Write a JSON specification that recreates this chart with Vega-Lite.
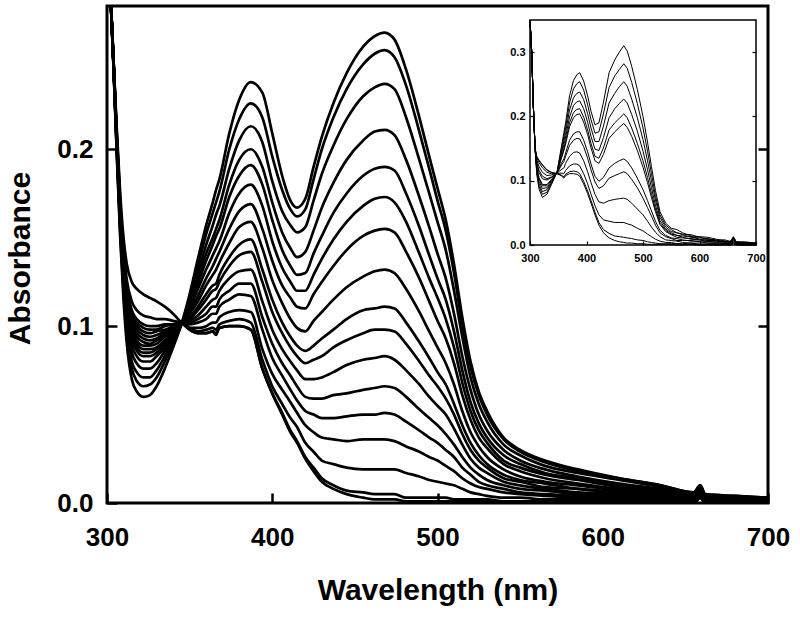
{
 "$schema": "https://vega.github.io/schema/vega-lite/v6.json",
 "width": 661,
 "height": 497,
 "autosize": "none",
 "padding": {"left": 107, "top": 6, "right": 32, "bottom": 116},
 "background": "white",
 "config": {"view": {"stroke": "black", "strokeWidth": 3}, "font": "Liberation Sans"},
 "datasets": {
  "main": [
   {"w":300,"c1":0.33,"c2":0.33,"c3":0.33,"c4":0.33,"c5":0.33,"c6":0.33,"c7":0.33,"c8":0.33,"c9":0.33,"c10":0.33,"c11":0.33,"c12":0.33,"c13":0.33,"c14":0.33,"c15":0.33,"c16":0.33,"c17":0.33},
   {"w":302,"c1":0.29,"c2":0.29,"c3":0.29,"c4":0.29,"c5":0.29,"c6":0.29,"c7":0.29,"c8":0.29,"c9":0.29,"c10":0.29,"c11":0.29,"c12":0.29,"c13":0.29,"c14":0.29,"c15":0.29,"c16":0.29,"c17":0.29},
   {"w":304,"c1":0.245,"c2":0.246,"c3":0.246,"c4":0.246,"c5":0.247,"c6":0.247,"c7":0.247,"c8":0.247,"c9":0.248,"c10":0.248,"c11":0.248,"c12":0.248,"c13":0.248,"c14":0.248,"c15":0.249,"c16":0.249,"c17":0.25},
   {"w":306,"c1":0.195,"c2":0.197,"c3":0.198,"c4":0.199,"c5":0.2,"c6":0.201,"c7":0.201,"c8":0.202,"c9":0.203,"c10":0.203,"c11":0.204,"c12":0.204,"c13":0.205,"c14":0.205,"c15":0.206,"c16":0.207,"c17":0.21},
   {"w":308,"c1":0.15,"c2":0.153,"c3":0.155,"c4":0.157,"c5":0.159,"c6":0.16,"c7":0.161,"c8":0.162,"c9":0.163,"c10":0.163,"c11":0.164,"c12":0.165,"c13":0.166,"c14":0.167,"c15":0.168,"c16":0.17,"c17":0.175},
   {"w":310,"c1":0.115,"c2":0.119,"c3":0.122,"c4":0.125,"c5":0.127,"c6":0.129,"c7":0.13,"c8":0.131,"c9":0.133,"c10":0.134,"c11":0.135,"c12":0.136,"c13":0.137,"c14":0.139,"c15":0.14,"c16":0.143,"c17":0.15},
   {"w":312,"c1":0.09,"c2":0.095,"c3":0.099,"c4":0.102,"c5":0.106,"c6":0.108,"c7":0.109,"c8":0.111,"c9":0.113,"c10":0.114,"c11":0.116,"c12":0.117,"c13":0.119,"c14":0.12,"c15":0.122,"c16":0.126,"c17":0.135},
   {"w":315,"c1":0.07,"c2":0.076,"c3":0.08,"c4":0.085,"c5":0.089,"c6":0.092,"c7":0.094,"c8":0.096,"c9":0.098,"c10":0.099,"c11":0.101,"c12":0.103,"c13":0.105,"c14":0.107,"c15":0.109,"c16":0.114,"c17":0.125},
   {"w":318,"c1":0.063,"c2":0.069,"c3":0.074,"c4":0.079,"c5":0.083,"c6":0.086,"c7":0.088,"c8":0.09,"c9":0.092,"c10":0.094,"c11":0.096,"c12":0.098,"c13":0.1,"c14":0.102,"c15":0.104,"c16":0.109,"c17":0.121},
   {"w":322,"c1":0.06,"c2":0.066,"c3":0.071,"c4":0.076,"c5":0.08,"c6":0.083,"c7":0.085,"c8":0.087,"c9":0.089,"c10":0.091,"c11":0.093,"c12":0.095,"c13":0.097,"c14":0.099,"c15":0.101,"c16":0.106,"c17":0.118},
   {"w":326,"c1":0.061,"c2":0.067,"c3":0.071,"c4":0.076,"c5":0.08,"c6":0.083,"c7":0.085,"c8":0.087,"c9":0.089,"c10":0.09,"c11":0.092,"c12":0.094,"c13":0.096,"c14":0.098,"c15":0.1,"c16":0.105,"c17":0.116},
   {"w":330,"c1":0.066,"c2":0.071,"c3":0.075,"c4":0.079,"c5":0.083,"c6":0.085,"c7":0.087,"c8":0.088,"c9":0.09,"c10":0.092,"c11":0.093,"c12":0.095,"c13":0.097,"c14":0.098,"c15":0.1,"c16":0.104,"c17":0.114},
   {"w":335,"c1":0.076,"c2":0.08,"c3":0.083,"c4":0.086,"c5":0.088,"c6":0.09,"c7":0.091,"c8":0.092,"c9":0.094,"c10":0.095,"c11":0.096,"c12":0.097,"c13":0.098,"c14":0.1,"c15":0.101,"c16":0.104,"c17":0.111},
   {"w":340,"c1":0.088,"c2":0.09,"c3":0.092,"c4":0.093,"c5":0.095,"c6":0.096,"c7":0.096,"c8":0.097,"c9":0.098,"c10":0.098,"c11":0.099,"c12":0.099,"c13":0.1,"c14":0.101,"c15":0.101,"c16":0.103,"c17":0.107},
   {"w":345,"c1":0.101,"c2":0.101,"c3":0.101,"c4":0.101,"c5":0.101,"c6":0.101,"c7":0.101,"c8":0.101,"c9":0.101,"c10":0.102,"c11":0.102,"c12":0.102,"c13":0.102,"c14":0.102,"c15":0.102,"c16":0.102,"c17":0.102},
   {"w":350,"c1":0.118,"c2":0.116,"c3":0.114,"c4":0.113,"c5":0.111,"c6":0.11,"c7":0.108,"c8":0.107,"c9":0.105,"c10":0.104,"c11":0.103,"c12":0.102,"c13":0.101,"c14":0.099,"c15":0.099,"c16":0.098,"c17":0.098},
   {"w":355,"c1":0.138,"c2":0.134,"c3":0.13,"c4":0.127,"c5":0.124,"c6":0.121,"c7":0.117,"c8":0.114,"c9":0.111,"c10":0.109,"c11":0.106,"c12":0.104,"c13":0.102,"c14":0.099,"c15":0.097,"c16":0.096,"c17":0.096},
   {"w":360,"c1":0.157,"c2":0.152,"c3":0.146,"c4":0.141,"c5":0.137,"c6":0.132,"c7":0.127,"c8":0.123,"c9":0.118,"c10":0.115,"c11":0.111,"c12":0.107,"c13":0.104,"c14":0.1,"c15":0.098,"c16":0.096,"c17":0.096},
   {"w":364,"c1":0.17,"c2":0.164,"c3":0.157,"c4":0.15,"c5":0.146,"c6":0.14,"c7":0.134,"c8":0.129,"c9":0.123,"c10":0.12,"c11":0.115,"c12":0.111,"c13":0.107,"c14":0.102,"c15":0.099,"c16":0.097,"c17":0.097},
   {"w":366,"c1":0.177,"c2":0.17,"c3":0.163,"c4":0.155,"c5":0.151,"c6":0.144,"c7":0.138,"c8":0.132,"c9":0.124,"c10":0.121,"c11":0.116,"c12":0.111,"c13":0.107,"c14":0.102,"c15":0.098,"c16":0.096,"c17":0.095},
   {"w":368,"c1":0.183,"c2":0.176,"c3":0.168,"c4":0.16,"c5":0.155,"c6":0.148,"c7":0.142,"c8":0.136,"c9":0.129,"c10":0.125,"c11":0.12,"c12":0.115,"c13":0.111,"c14":0.105,"c15":0.101,"c16":0.099,"c17":0.099},
   {"w":374,"c1":0.209,"c2":0.2,"c3":0.189,"c4":0.18,"c5":0.173,"c6":0.164,"c7":0.155,"c8":0.147,"c9":0.139,"c10":0.134,"c11":0.127,"c12":0.12,"c13":0.115,"c14":0.108,"c15":0.103,"c16":0.1,"c17":0.1},
   {"w":380,"c1":0.228,"c2":0.217,"c3":0.205,"c4":0.194,"c5":0.185,"c6":0.175,"c7":0.165,"c8":0.156,"c9":0.146,"c10":0.14,"c11":0.131,"c12":0.124,"c13":0.118,"c14":0.109,"c15":0.104,"c16":0.1,"c17":0.1},
   {"w":387,"c1":0.238,"c2":0.226,"c3":0.213,"c4":0.2,"c5":0.191,"c6":0.18,"c7":0.169,"c8":0.159,"c9":0.149,"c10":0.142,"c11":0.132,"c12":0.124,"c13":0.117,"c14":0.108,"c15":0.102,"c16":0.098,"c17":0.098},
   {"w":394,"c1":0.232,"c2":0.218,"c3":0.204,"c4":0.19,"c5":0.18,"c6":0.168,"c7":0.155,"c8":0.144,"c9":0.132,"c10":0.125,"c11":0.114,"c12":0.105,"c13":0.098,"c14":0.087,"c15":0.081,"c16":0.076,"c17":0.076},
   {"w":400,"c1":0.209,"c2":0.196,"c3":0.182,"c4":0.17,"c5":0.16,"c6":0.148,"c7":0.137,"c8":0.126,"c9":0.115,"c10":0.108,"c11":0.098,"c12":0.09,"c13":0.082,"c14":0.073,"c15":0.066,"c16":0.062,"c17":0.062},
   {"w":406,"c1":0.185,"c2":0.177,"c3":0.165,"c4":0.153,"c5":0.143,"c6":0.133,"c7":0.123,"c8":0.113,"c9":0.102,"c10":0.096,"c11":0.087,"c12":0.079,"c13":0.072,"c14":0.064,"c15":0.056,"c16":0.051,"c17":0.05},
   {"w":411,"c1":0.171,"c2":0.166,"c3":0.157,"c4":0.144,"c5":0.134,"c6":0.125,"c7":0.116,"c8":0.104,"c9":0.094,"c10":0.088,"c11":0.08,"c12":0.072,"c13":0.064,"c14":0.057,"c15":0.048,"c16":0.041,"c17":0.04},
   {"w":415,"c1":0.167,"c2":0.162,"c3":0.153,"c4":0.139,"c5":0.129,"c6":0.12,"c7":0.111,"c8":0.099,"c9":0.089,"c10":0.083,"c11":0.075,"c12":0.066,"c13":0.058,"c14":0.051,"c15":0.043,"c16":0.035,"c17":0.034},
   {"w":420,"c1":0.172,"c2":0.166,"c3":0.156,"c4":0.142,"c5":0.13,"c6":0.12,"c7":0.11,"c8":0.097,"c9":0.086,"c10":0.079,"c11":0.07,"c12":0.06,"c13":0.052,"c14":0.044,"c15":0.034,"c16":0.026,"c17":0.025},
   {"w":425,"c1":0.19,"c2":0.183,"c3":0.171,"c4":0.154,"c5":0.141,"c6":0.129,"c7":0.118,"c8":0.103,"c9":0.089,"c10":0.081,"c11":0.07,"c12":0.059,"c13":0.05,"c14":0.04,"c15":0.029,"c16":0.02,"c17":0.018},
   {"w":430,"c1":0.207,"c2":0.2,"c3":0.186,"c4":0.167,"c5":0.151,"c6":0.138,"c7":0.125,"c8":0.108,"c9":0.093,"c10":0.083,"c11":0.071,"c12":0.059,"c13":0.048,"c14":0.037,"c15":0.024,"c16":0.014,"c17":0.012},
   {"w":437,"c1":0.226,"c2":0.218,"c3":0.202,"c4":0.181,"c5":0.164,"c6":0.149,"c7":0.134,"c8":0.115,"c9":0.098,"c10":0.088,"c11":0.074,"c12":0.061,"c13":0.048,"c14":0.036,"c15":0.022,"c16":0.01,"c17":0.008},
   {"w":445,"c1":0.243,"c2":0.234,"c3":0.217,"c4":0.194,"c5":0.175,"c6":0.159,"c7":0.143,"c8":0.122,"c9":0.104,"c10":0.092,"c11":0.078,"c12":0.062,"c13":0.049,"c14":0.035,"c15":0.02,"c16":0.007,"c17":0.005},
   {"w":455,"c1":0.258,"c2":0.248,"c3":0.23,"c4":0.205,"c5":0.185,"c6":0.168,"c7":0.151,"c8":0.128,"c9":0.109,"c10":0.096,"c11":0.081,"c12":0.064,"c13":0.05,"c14":0.036,"c15":0.019,"c16":0.006,"c17":0.003},
   {"w":462,"c1":0.264,"c2":0.254,"c3":0.235,"c4":0.21,"c5":0.189,"c6":0.172,"c7":0.154,"c8":0.131,"c9":0.11,"c10":0.098,"c11":0.082,"c12":0.065,"c13":0.05,"c14":0.036,"c15":0.019,"c16":0.005,"c17":0.002},
   {"w":468,"c1":0.266,"c2":0.256,"c3":0.237,"c4":0.211,"c5":0.19,"c6":0.173,"c7":0.155,"c8":0.132,"c9":0.111,"c10":0.098,"c11":0.083,"c12":0.066,"c13":0.051,"c14":0.036,"c15":0.019,"c16":0.005,"c17":0.002},
   {"w":474,"c1":0.262,"c2":0.252,"c3":0.234,"c4":0.208,"c5":0.188,"c6":0.17,"c7":0.153,"c8":0.13,"c9":0.11,"c10":0.097,"c11":0.081,"c12":0.065,"c13":0.05,"c14":0.035,"c15":0.019,"c16":0.005,"c17":0.002},
   {"w":481,"c1":0.245,"c2":0.236,"c3":0.218,"c4":0.194,"c5":0.175,"c6":0.159,"c7":0.142,"c8":0.121,"c9":0.102,"c10":0.09,"c11":0.075,"c12":0.06,"c13":0.046,"c14":0.032,"c15":0.017,"c16":0.003,"c17":0.001},
   {"w":489,"c1":0.218,"c2":0.21,"c3":0.194,"c4":0.173,"c5":0.156,"c6":0.141,"c7":0.127,"c8":0.108,"c9":0.091,"c10":0.08,"c11":0.067,"c12":0.053,"c13":0.041,"c14":0.029,"c15":0.015,"c16":0.003,"c17":0.001},
   {"w":495,"c1":0.196,"c2":0.189,"c3":0.175,"c4":0.156,"c5":0.14,"c6":0.127,"c7":0.114,"c8":0.097,"c9":0.082,"c10":0.072,"c11":0.06,"c12":0.048,"c13":0.037,"c14":0.026,"c15":0.013,"c16":0.003,"c17":0.001},
   {"w":500,"c1":0.178,"c2":0.171,"c3":0.159,"c4":0.141,"c5":0.127,"c6":0.116,"c7":0.103,"c8":0.088,"c9":0.074,"c10":0.066,"c11":0.055,"c12":0.044,"c13":0.034,"c14":0.024,"c15":0.012,"c16":0.003,"c17":0.001},
   {"w":505,"c1":0.16,"c2":0.154,"c3":0.143,"c4":0.127,"c5":0.115,"c6":0.104,"c7":0.093,"c8":0.079,"c9":0.067,"c10":0.059,"c11":0.05,"c12":0.039,"c13":0.03,"c14":0.021,"c15":0.011,"c16":0.003,"c17":0.001},
   {"w":510,"c1":0.135,"c2":0.13,"c3":0.12,"c4":0.107,"c5":0.097,"c6":0.088,"c7":0.079,"c8":0.067,"c9":0.056,"c10":0.05,"c11":0.042,"c12":0.033,"c13":0.026,"c14":0.018,"c15":0.01,"c16":0.002,"c17":0.001},
   {"w":515,"c1":0.105,"c2":0.101,"c3":0.094,"c4":0.083,"c5":0.075,"c6":0.068,"c7":0.061,"c8":0.052,"c9":0.044,"c10":0.039,"c11":0.033,"c12":0.026,"c13":0.02,"c14":0.014,"c15":0.008,"c16":0.002,"c17":0.001},
   {"w":520,"c1":0.08,"c2":0.077,"c3":0.071,"c4":0.064,"c5":0.057,"c6":0.052,"c7":0.047,"c8":0.04,"c9":0.034,"c10":0.03,"c11":0.025,"c12":0.02,"c13":0.016,"c14":0.011,"c15":0.006,"c16":0.002,"c17":0.001},
   {"w":525,"c1":0.063,"c2":0.061,"c3":0.056,"c4":0.05,"c5":0.045,"c6":0.041,"c7":0.037,"c8":0.032,"c9":0.027,"c10":0.024,"c11":0.02,"c12":0.016,"c13":0.012,"c14":0.009,"c15":0.005,"c16":0.002,"c17":0.001},
   {"w":530,"c1":0.052,"c2":0.05,"c3":0.046,"c4":0.041,"c5":0.037,"c6":0.034,"c7":0.031,"c8":0.026,"c9":0.022,"c10":0.02,"c11":0.017,"c12":0.013,"c13":0.01,"c14":0.008,"c15":0.004,"c16":0.002,"c17":0.001},
   {"w":540,"c1":0.037,"c2":0.036,"c3":0.033,"c4":0.03,"c5":0.027,"c6":0.024,"c7":0.022,"c8":0.019,"c9":0.016,"c10":0.014,"c11":0.012,"c12":0.01,"c13":0.008,"c14":0.006,"c15":0.003,"c16":0.001,"c17":0.001},
   {"w":550,"c1":0.03,"c2":0.029,"c3":0.027,"c4":0.024,"c5":0.022,"c6":0.02,"c7":0.018,"c8":0.015,"c9":0.013,"c10":0.012,"c11":0.01,"c12":0.008,"c13":0.006,"c14":0.005,"c15":0.003,"c16":0.001,"c17":0.001},
   {"w":565,"c1":0.024,"c2":0.023,"c3":0.021,"c4":0.019,"c5":0.017,"c6":0.016,"c7":0.014,"c8":0.012,"c9":0.011,"c10":0.009,"c11":0.008,"c12":0.007,"c13":0.005,"c14":0.004,"c15":0.002,"c16":0.001,"c17":0.001},
   {"w":585,"c1":0.019,"c2":0.018,"c3":0.017,"c4":0.015,"c5":0.014,"c6":0.013,"c7":0.011,"c8":0.01,"c9":0.008,"c10":0.008,"c11":0.006,"c12":0.005,"c13":0.004,"c14":0.003,"c15":0.002,"c16":0.001,"c17":0.001},
   {"w":610,"c1":0.014,"c2":0.014,"c3":0.013,"c4":0.011,"c5":0.01,"c6":0.009,"c7":0.008,"c8":0.007,"c9":0.006,"c10":0.006,"c11":0.005,"c12":0.004,"c13":0.003,"c14":0.002,"c15":0.001,"c16":0.001,"c17":0.001},
   {"w":635,"c1":0.01,"c2":0.01,"c3":0.009,"c4":0.008,"c5":0.007,"c6":0.006,"c7":0.006,"c8":0.005,"c9":0.004,"c10":0.004,"c11":0.003,"c12":0.002,"c13":0.002,"c14":0.001,"c15":0.001,"c16":0,"c17":0},
   {"w":655,"c1":0.006,"c2":0.006,"c3":0.005,"c4":0.005,"c5":0.004,"c6":0.004,"c7":0.003,"c8":0.003,"c9":0.002,"c10":0.002,"c11":0.002,"c12":0.001,"c13":0.001,"c14":0.001,"c15":0,"c16":0,"c17":0},
   {"w":659,"c1":0.01,"c2":0.01,"c3":0.009,"c4":0.009,"c5":0.008,"c6":0.008,"c7":0.007,"c8":0.007,"c9":0.006,"c10":0.006,"c11":0.005,"c12":0.005,"c13":0.004,"c14":0.004,"c15":0.003,"c16":0.003,"c17":0.003},
   {"w":662,"c1":0.005,"c2":0.005,"c3":0.004,"c4":0.004,"c5":0.004,"c6":0.003,"c7":0.003,"c8":0.003,"c9":0.002,"c10":0.002,"c11":0.002,"c12":0.001,"c13":0.001,"c14":0.001,"c15":0,"c16":0,"c17":0},
   {"w":680,"c1":0.004,"c2":0.004,"c3":0.003,"c4":0.003,"c5":0.003,"c6":0.002,"c7":0.002,"c8":0.002,"c9":0.002,"c10":0.001,"c11":0.001,"c12":0.001,"c13":0.001,"c14":0,"c15":0,"c16":0,"c17":0},
   {"w":700,"c1":0.003,"c2":0.003,"c3":0.002,"c4":0.002,"c5":0.002,"c6":0.002,"c7":0.001,"c8":0.001,"c9":0.001,"c10":0.001,"c11":0.001,"c12":0,"c13":0,"c14":0,"c15":0,"c16":0,"c17":0}
  ],
  "inset": [
   {"w":300,"i1":0.35,"i2":0.35,"i3":0.35,"i4":0.35,"i5":0.35,"i6":0.35,"i7":0.35,"i8":0.35,"i9":0.35,"i10":0.35,"i11":0.35,"i12":0.35},
   {"w":303,"i1":0.3,"i2":0.3,"i3":0.3,"i4":0.3,"i5":0.3,"i6":0.3,"i7":0.3,"i8":0.3,"i9":0.3,"i10":0.3,"i11":0.3,"i12":0.3},
   {"w":306,"i1":0.215,"i2":0.215,"i3":0.215,"i4":0.215,"i5":0.215,"i6":0.215,"i7":0.215,"i8":0.215,"i9":0.215,"i10":0.215,"i11":0.215,"i12":0.215},
   {"w":309,"i1":0.15,"i2":0.15,"i3":0.15,"i4":0.15,"i5":0.15,"i6":0.15,"i7":0.15,"i8":0.15,"i9":0.15,"i10":0.15,"i11":0.15,"i12":0.15},
   {"w":312,"i1":0.11,"i2":0.113,"i3":0.115,"i4":0.118,"i5":0.12,"i6":0.121,"i7":0.126,"i8":0.128,"i9":0.132,"i10":0.135,"i11":0.137,"i12":0.138},
   {"w":316,"i1":0.087,"i2":0.091,"i3":0.095,"i4":0.099,"i5":0.103,"i6":0.105,"i7":0.113,"i8":0.116,"i9":0.122,"i10":0.128,"i11":0.131,"i12":0.132},
   {"w":322,"i1":0.074,"i2":0.079,"i3":0.083,"i4":0.088,"i5":0.092,"i6":0.094,"i7":0.103,"i8":0.107,"i9":0.113,"i10":0.12,"i11":0.124,"i12":0.125},
   {"w":330,"i1":0.079,"i2":0.082,"i3":0.086,"i4":0.089,"i5":0.092,"i6":0.094,"i7":0.101,"i8":0.103,"i9":0.108,"i10":0.113,"i11":0.116,"i12":0.117},
   {"w":338,"i1":0.094,"i2":0.096,"i3":0.097,"i4":0.099,"i5":0.101,"i6":0.102,"i7":0.105,"i8":0.106,"i9":0.109,"i10":0.111,"i11":0.113,"i12":0.113},
   {"w":348,"i1":0.114,"i2":0.114,"i3":0.113,"i4":0.113,"i5":0.113,"i6":0.113,"i7":0.112,"i8":0.112,"i9":0.112,"i10":0.111,"i11":0.111,"i12":0.111},
   {"w":355,"i1":0.15,"i2":0.146,"i3":0.142,"i4":0.139,"i5":0.135,"i6":0.133,"i7":0.126,"i8":0.123,"i9":0.117,"i10":0.112,"i11":0.109,"i12":0.108},
   {"w":360,"i1":0.175,"i2":0.169,"i3":0.162,"i4":0.156,"i5":0.15,"i6":0.147,"i7":0.134,"i8":0.13,"i9":0.12,"i10":0.111,"i11":0.106,"i12":0.104},
   {"w":363,"i1":0.19,"i2":0.183,"i3":0.175,"i4":0.168,"i5":0.161,"i6":0.157,"i7":0.143,"i8":0.138,"i9":0.127,"i10":0.116,"i11":0.11,"i12":0.108},
   {"w":370,"i1":0.232,"i2":0.221,"i3":0.21,"i4":0.199,"i5":0.19,"i6":0.184,"i7":0.163,"i8":0.155,"i9":0.138,"i10":0.123,"i11":0.114,"i12":0.111},
   {"w":377,"i1":0.256,"i2":0.243,"i3":0.229,"i4":0.217,"i5":0.206,"i6":0.198,"i7":0.173,"i8":0.163,"i9":0.144,"i10":0.126,"i11":0.115,"i12":0.111},
   {"w":383,"i1":0.265,"i2":0.251,"i3":0.236,"i4":0.223,"i5":0.211,"i6":0.203,"i7":0.176,"i8":0.166,"i9":0.145,"i10":0.126,"i11":0.114,"i12":0.11},
   {"w":388,"i1":0.268,"i2":0.254,"i3":0.238,"i4":0.224,"i5":0.212,"i6":0.204,"i7":0.176,"i8":0.165,"i9":0.143,"i10":0.123,"i11":0.111,"i12":0.107},
   {"w":395,"i1":0.255,"i2":0.241,"i3":0.226,"i4":0.212,"i5":0.199,"i6":0.191,"i7":0.163,"i8":0.153,"i9":0.131,"i10":0.111,"i11":0.099,"i12":0.095},
   {"w":402,"i1":0.232,"i2":0.218,"i3":0.204,"i4":0.191,"i5":0.179,"i6":0.172,"i7":0.145,"i8":0.135,"i9":0.114,"i10":0.095,"i11":0.084,"i12":0.08},
   {"w":408,"i1":0.208,"i2":0.195,"i3":0.182,"i4":0.169,"i5":0.158,"i6":0.151,"i7":0.126,"i8":0.117,"i9":0.097,"i10":0.079,"i11":0.069,"i12":0.065},
   {"w":415,"i1":0.187,"i2":0.174,"i3":0.161,"i4":0.149,"i5":0.138,"i6":0.131,"i7":0.107,"i8":0.098,"i9":0.079,"i10":0.061,"i11":0.051,"i12":0.047},
   {"w":422,"i1":0.19,"i2":0.176,"i3":0.161,"i4":0.147,"i5":0.135,"i6":0.127,"i7":0.099,"i8":0.088,"i9":0.067,"i10":0.047,"i11":0.035,"i12":0.031},
   {"w":430,"i1":0.222,"i2":0.204,"i3":0.185,"i4":0.167,"i5":0.151,"i6":0.141,"i7":0.105,"i8":0.092,"i9":0.065,"i10":0.039,"i11":0.024,"i12":0.019},
   {"w":440,"i1":0.268,"i2":0.245,"i3":0.221,"i4":0.198,"i5":0.179,"i6":0.166,"i7":0.12,"i8":0.104,"i9":0.069,"i10":0.037,"i11":0.018,"i12":0.011},
   {"w":450,"i1":0.288,"i2":0.263,"i3":0.236,"i4":0.212,"i5":0.19,"i6":0.176,"i7":0.127,"i8":0.108,"i9":0.071,"i10":0.035,"i11":0.014,"i12":0.007},
   {"w":458,"i1":0.3,"i2":0.273,"i3":0.246,"i4":0.22,"i5":0.197,"i6":0.183,"i7":0.131,"i8":0.111,"i9":0.072,"i10":0.035,"i11":0.013,"i12":0.005},
   {"w":466,"i1":0.31,"i2":0.282,"i3":0.254,"i4":0.227,"i5":0.204,"i6":0.189,"i7":0.134,"i8":0.114,"i9":0.073,"i10":0.035,"i11":0.012,"i12":0.004},
   {"w":472,"i1":0.302,"i2":0.275,"i3":0.247,"i4":0.221,"i5":0.198,"i6":0.183,"i7":0.13,"i8":0.111,"i9":0.071,"i10":0.033,"i11":0.011,"i12":0.003},
   {"w":480,"i1":0.278,"i2":0.253,"i3":0.227,"i4":0.203,"i5":0.182,"i6":0.169,"i7":0.12,"i8":0.102,"i9":0.065,"i10":0.031,"i11":0.01,"i12":0.003},
   {"w":490,"i1":0.242,"i2":0.22,"i3":0.198,"i4":0.177,"i5":0.158,"i6":0.147,"i7":0.104,"i8":0.089,"i9":0.056,"i10":0.026,"i11":0.008,"i12":0.002},
   {"w":500,"i1":0.2,"i2":0.182,"i3":0.164,"i4":0.146,"i5":0.131,"i6":0.121,"i7":0.086,"i8":0.073,"i9":0.047,"i10":0.022,"i11":0.007,"i12":0.002},
   {"w":508,"i1":0.16,"i2":0.146,"i3":0.131,"i4":0.117,"i5":0.105,"i6":0.097,"i7":0.069,"i8":0.058,"i9":0.037,"i10":0.017,"i11":0.005,"i12":0.001},
   {"w":515,"i1":0.122,"i2":0.111,"i3":0.1,"i4":0.089,"i5":0.08,"i6":0.074,"i7":0.053,"i8":0.045,"i9":0.028,"i10":0.013,"i11":0.004,"i12":0.001},
   {"w":522,"i1":0.085,"i2":0.077,"i3":0.07,"i4":0.062,"i5":0.056,"i6":0.052,"i7":0.037,"i8":0.031,"i9":0.02,"i10":0.009,"i11":0.003,"i12":0.001},
   {"w":530,"i1":0.052,"i2":0.047,"i3":0.043,"i4":0.038,"i5":0.034,"i6":0.032,"i7":0.023,"i8":0.019,"i9":0.013,"i10":0.006,"i11":0.002,"i12":0.001},
   {"w":540,"i1":0.034,"i2":0.031,"i3":0.028,"i4":0.025,"i5":0.023,"i6":0.021,"i7":0.015,"i8":0.013,"i9":0.008,"i10":0.004,"i11":0.002,"i12":0.001},
   {"w":550,"i1":0.026,"i2":0.024,"i3":0.021,"i4":0.019,"i5":0.017,"i6":0.016,"i7":0.011,"i8":0.01,"i9":0.007,"i10":0.004,"i11":0.002,"i12":0.001},
   {"w":560,"i1":0.024,"i2":0.019,"i3":0.019,"i4":0.015,"i5":0.015,"i6":0.012,"i7":0.01,"i8":0.007,"i9":0.006,"i10":0.002,"i11":0.002,"i12":0},
   {"w":570,"i1":0.019,"i2":0.017,"i3":0.016,"i4":0.014,"i5":0.012,"i6":0.011,"i7":0.008,"i8":0.007,"i9":0.004,"i10":0.002,"i11":0.001,"i12":0},
   {"w":585,"i1":0.014,"i2":0.016,"i3":0.012,"i4":0.013,"i5":0.009,"i6":0.01,"i7":0.006,"i8":0.007,"i9":0.003,"i10":0.003,"i11":0.001,"i12":0.001},
   {"w":600,"i1":0.013,"i2":0.012,"i3":0.011,"i4":0.009,"i5":0.008,"i6":0.008,"i7":0.006,"i8":0.005,"i9":0.003,"i10":0.001,"i11":0,"i12":0},
   {"w":615,"i1":0.012,"i2":0.009,"i3":0.01,"i4":0.007,"i5":0.008,"i6":0.005,"i7":0.006,"i8":0.003,"i9":0.003,"i10":0.001,"i11":0.001,"i12":0},
   {"w":630,"i1":0.009,"i2":0.008,"i3":0.007,"i4":0.007,"i5":0.006,"i6":0.005,"i7":0.004,"i8":0.003,"i9":0.002,"i10":0.001,"i11":0,"i12":0},
   {"w":645,"i1":0.006,"i2":0.008,"i3":0.005,"i4":0.006,"i5":0.004,"i6":0.005,"i7":0.002,"i8":0.003,"i9":0.001,"i10":0.001,"i11":0,"i12":0.001},
   {"w":655,"i1":0.006,"i2":0.005,"i3":0.005,"i4":0.004,"i5":0.004,"i6":0.004,"i7":0.003,"i8":0.002,"i9":0.001,"i10":0.001,"i11":0,"i12":0},
   {"w":660,"i1":0.013,"i2":0.012,"i3":0.012,"i4":0.011,"i5":0.01,"i6":0.01,"i7":0.008,"i8":0.007,"i9":0.005,"i10":0.004,"i11":0.003,"i12":0.002},
   {"w":665,"i1":0.005,"i2":0.005,"i3":0.004,"i4":0.004,"i5":0.003,"i6":0.003,"i7":0.002,"i8":0.002,"i9":0.001,"i10":0.001,"i11":0,"i12":0},
   {"w":680,"i1":0.005,"i2":0.003,"i3":0.004,"i4":0.002,"i5":0.003,"i6":0.001,"i7":0.002,"i8":0.001,"i9":0.001,"i10":0,"i11":0,"i12":0},
   {"w":700,"i1":0.003,"i2":0.003,"i3":0.003,"i4":0.002,"i5":0.002,"i6":0.002,"i7":0.001,"i8":0.001,"i9":0.001,"i10":0,"i11":0,"i12":0}
  ],
  "frame": [{"x1": 300, "x2": 700, "y1": 0, "y2": 0.35}]
 },
 "layer": [
  {
   "layer": [
    {
     "data": {"name": "main"},
     "transform": [{"fold": ["c1","c2","c3","c4","c5","c6","c7","c8","c9","c10","c11","c12","c13","c14","c15","c16","c17"], "as": ["curve", "A"]}],
     "mark": {"type": "line", "color": "black", "strokeWidth": 2.7, "interpolate": "monotone", "clip": true},
     "encoding": {
      "x": {"field": "w", "type": "quantitative",
            "scale": {"domain": [300, 700], "nice": false, "zero": false},
            "axis": {"values": [300, 400, 500, 600, 700], "title": "Wavelength (nm)", "grid": false, "domain": false,
                     "tickSize": -10, "tickWidth": 2.5, "tickColor": "black",
                     "labelFont": "Liberation Sans", "labelFontWeight": "bold", "labelFontSize": 26, "labelColor": "black",
                     "labelBaseline": "alphabetic", "labelPadding": 52, "labelFlush": false, "labelOverlap": false,
                     "titleFont": "Liberation Sans", "titleFontSize": 30, "titleFontWeight": "bold", "titleColor": "black",
                     "titleBaseline": "alphabetic", "titleY": 96}},
      "y": {"field": "A", "type": "quantitative",
            "scale": {"domain": [0, 0.281], "nice": false, "zero": false},
            "axis": {"values": [0, 0.1, 0.2], "format": ".1f", "title": "Absorbance", "grid": false, "domain": false,
                     "tickSize": -10, "tickWidth": 2.5, "tickColor": "black",
                     "labelFont": "Liberation Sans", "labelFontWeight": "bold", "labelFontSize": 26, "labelColor": "black",
                     "labelPadding": 24, "labelFlush": false, "labelOverlap": false,
                     "titleFont": "Liberation Sans", "titleFontSize": 30, "titleFontWeight": "bold", "titleColor": "black",
                     "titleAngle": -90, "titleBaseline": "alphabetic", "titleX": -78, "titleY": 252, "titleAlign": "center"}},
      "detail": {"field": "curve", "type": "nominal"}
     }
    },
    {
     "data": {"values": [{"A": 0}]},
     "mark": {"type": "point", "opacity": 0},
     "encoding": {
      "y": {"field": "A", "type": "quantitative",
            "scale": {"domain": [0, 0.281], "nice": false, "zero": false},
            "axis": {"orient": "right", "values": [0.1, 0.2], "labels": false, "title": null, "grid": false, "domain": false,
                     "tickSize": -10, "tickWidth": 2.5, "tickColor": "black"}}
     }
    }
   ],
   "resolve": {"axis": {"y": "independent"}}
  },
  {
   "layer": [
    {
     "data": {"name": "frame"},
     "mark": {"type": "rect", "fill": null, "stroke": "black", "strokeWidth": 1.5},
     "encoding": {
      "x": {"field": "x1", "type": "quantitative", "scale": {"domain": [300, 700], "range": [423, 649], "nice": false, "zero": false}, "axis": null},
      "x2": {"field": "x2"},
      "y": {"field": "y1", "type": "quantitative", "scale": {"domain": [0, 0.35], "range": [239, 14], "nice": false, "zero": false},
            "axis": {"orient": "right", "offset": -12, "values": [0.1, 0.2, 0.3], "labels": false, "title": null, "grid": false, "domain": false,
                     "tickSize": -4, "tickWidth": 1.2, "tickColor": "black"}},
      "y2": {"field": "y2"}
     }
    },
    {
     "data": {"name": "inset"},
     "transform": [{"fold": ["i1","i2","i3","i4","i5","i6","i7","i8","i9","i10","i11","i12"], "as": ["curve", "A"]}],
     "mark": {"type": "line", "color": "black", "strokeWidth": 1, "interpolate": "linear"},
     "encoding": {
      "x": {"field": "w", "type": "quantitative",
            "scale": {"domain": [300, 700], "range": [423, 649], "nice": false, "zero": false},
            "axis": {"orient": "bottom", "offset": -258, "values": [300, 400, 500, 600, 700], "title": null, "grid": false, "domain": false,
                     "tickSize": -4, "tickWidth": 1.2, "tickColor": "black",
                     "labelFont": "Liberation Sans", "labelFontWeight": "bold", "labelFontSize": 11, "labelColor": "black",
                     "labelPadding": 11, "labelFlush": false, "labelOverlap": false}},
      "y": {"field": "A", "type": "quantitative",
            "scale": {"domain": [0, 0.35], "range": [239, 14], "nice": false, "zero": false},
            "axis": {"orient": "left", "offset": -423, "values": [0, 0.1, 0.2, 0.3], "format": ".1f", "title": null, "grid": false, "domain": false,
                     "tickSize": -4, "tickWidth": 1.2, "tickColor": "black",
                     "labelFont": "Liberation Sans", "labelFontWeight": "bold", "labelFontSize": 11, "labelColor": "black",
                     "labelPadding": 9, "labelFlush": false, "labelOverlap": false}},
      "detail": {"field": "curve", "type": "nominal"}
     }
    }
   ],
   "resolve": {"axis": {"x": "independent", "y": "independent"}}
  }
 ],
 "resolve": {"scale": {"x": "independent", "y": "independent"}, "axis": {"x": "independent", "y": "independent"}}
}
